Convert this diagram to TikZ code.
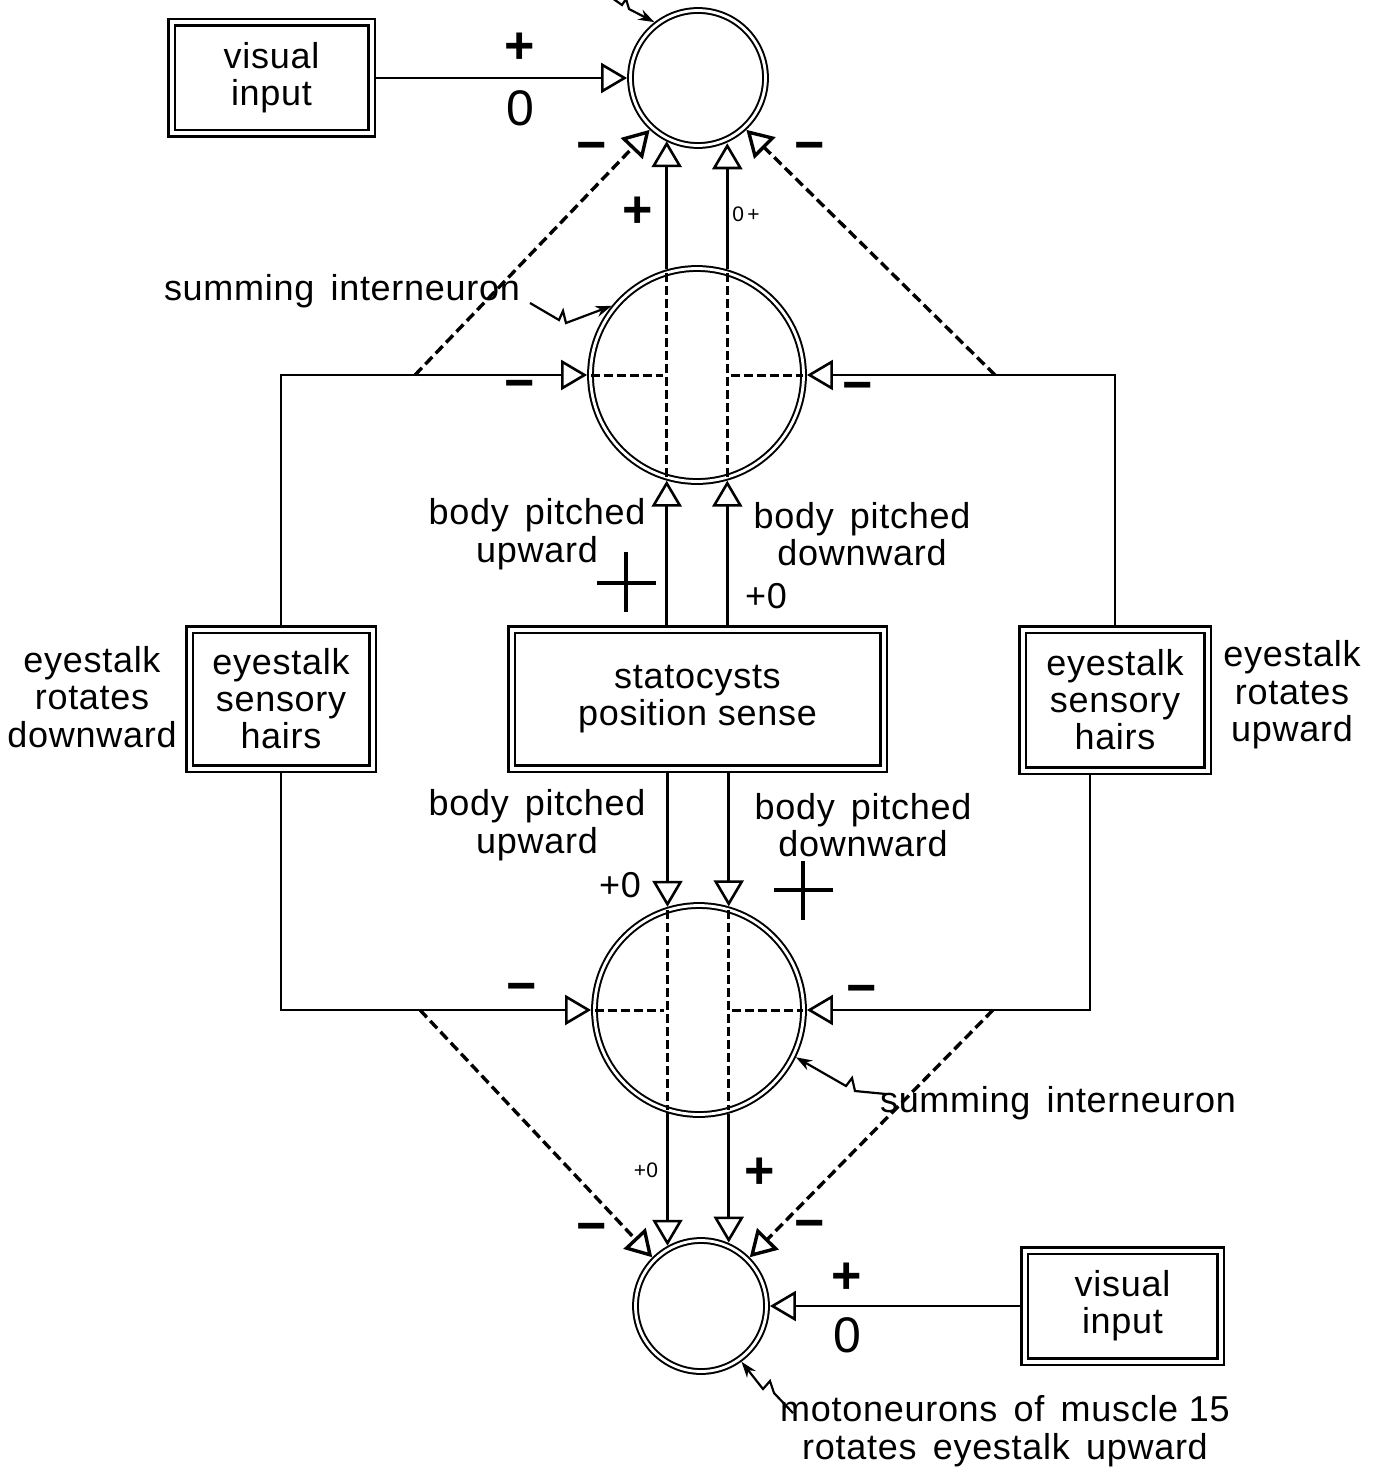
\documentclass[tikz,border=0pt]{standalone}
\usepackage{fontspec}
\setmainfont{Liberation Sans}[LetterSpace=2]
\usetikzlibrary{arrows.meta}
\begin{document}
\begin{tikzpicture}[x=1pt,y=-1pt,
  lab/.style={font=\fontsize{36}{37.5}\selectfont, align=center, inner sep=0pt},
  neuron/.style={circle, draw, double, line width=2pt, double distance=2.8pt, inner sep=0pt, outer sep=3.4pt},
  dbox/.style={draw, double, line width=2.2pt, double distance=4pt, align=center, inner sep=0pt, outer sep=4.2pt, font=\fontsize{36}{37}\selectfont},
  arr/.style={line width=2.6pt, -{Triangle[open, length=26pt, width=30pt]}},
  dline/.style={line width=3.4pt, dash pattern=on 10pt off 5pt},
  idash/.style={line width=3pt, dash pattern=on 9pt off 4pt, shorten <=3.5pt, shorten >=3.5pt},
  sq/.style={line width=2.2pt, -{Stealth[length=16pt, width=11pt]}},
  sgn/.style={font=\fontsize{52}{52}\selectfont\bfseries, inner sep=0pt},
  num/.style={font=\fontsize{50}{50}\selectfont, inner sep=0pt},
  small/.style={font=\fontsize{21}{21}\selectfont, inner sep=0pt},
  mid/.style={font=\fontsize{36}{36}\selectfont, inner sep=0pt},
  bigplus/.style={line width=4pt}
]
\useasboundingbox (0,0) rectangle (1377,1469);

% neurons
\node[neuron, minimum size=135pt] (T) at (698,78) {};
\node[neuron, minimum size=213pt] (M1) at (697,375) {};
\node[neuron, minimum size=209pt] (M2) at (699,1010) {};
\node[neuron, minimum size=131pt] (B) at (701,1306) {};

% boxes
\node[dbox, minimum width=200pt, minimum height=111pt] (VI1) at (271.5,78) {visual\\input};
\node[dbox, minimum width=183pt, minimum height=139pt] (ES1) at (281,699) {eyestalk\\sensory\\hairs};
\node[dbox, minimum width=372pt, minimum height=139pt] (ST) at (697.5,699) {statocysts\\position sense};
\node[dbox, minimum width=185pt, minimum height=141pt] (ES2) at (1115,700) {eyestalk\\sensory\\hairs};
\node[dbox, minimum width=196pt, minimum height=111pt] (VI2) at (1122.5,1306) {visual\\input};

% internal dashed lines
\draw[idash] (M1.106) -- (M1.254);
\draw[idash] (M1.74) -- (M1.286);
\draw[idash] (M1.west) -- (M1.106 |- M1.center);
\draw[idash] (M1.74 |- M1.center) -- (M1.east);
\draw[idash] (M2.107) -- (M2.253);
\draw[idash] (M2.74) -- (M2.286);
\draw[idash] (M2.west) -- (M2.107 |- M2.center);
\draw[idash] (M2.74 |- M2.center) -- (M2.east);

% connectors
\draw[arr] (VI1.east) -- (T.west);
\draw[arr] (M1.106) -- (M1.106 |- T.-117);
\draw[arr] (M1.74) -- (M1.74 |- T.-67);
\draw[arr] (ST.north -| M1.254) -- (M1.254);
\draw[arr] (ST.north -| M1.286) -- (M1.286);
\draw[arr] (ST.south -| M2.107) -- (M2.107);
\draw[arr] (ST.south -| M2.74) -- (M2.74);
\draw[arr] (M2.253) -- (M2.253 |- B.119);
\draw[arr] (M2.286) -- (M2.286 |- B.67);
\draw[arr] (ES1.north) |- (M1.west);
\draw[arr] (ES2.north) |- (M1.east);
\draw[arr] (ES1.south) |- (M2.west);
\draw[arr] ([xshift=-25pt]ES2.south) |- (M2.east);
\draw[arr] (VI2.west) -- (B.east);

\coordinate (j1) at (415,375);
\coordinate (j2) at (995,375);
\coordinate (j3) at (420,1010);
\coordinate (j4) at (993,1010);
\draw[arr, dline] (j1) -- (T.-133);
\draw[arr, dline] (j2) -- (T.-47);
\draw[arr, dline] (j3) -- (B.135);
\draw[arr, dline] (j4) -- (B.45);

% squiggle pointers
\draw[sq] (612,-2) -- (622,5) -- (626,-1) -- (629,9) -- (T.128);
\node[lab] (L1) at (342,291) {summing\hspace{0.45em}interneuron};
\coordinate (q1) at (530,303);
\draw[sq] (q1) -- (559,320) -- (563,311) -- (566,323) -- (M1.141);
\node[lab] (L2) at (1058,1103) {summing\hspace{0.45em}interneuron};
\coordinate (q2) at (886,1094);
\draw[sq] (q2) -- (855,1091) -- (852,1078) -- (846,1086) -- (M2.-26);
\node[lab] (L3) at (1005,1431) {motoneurons\hspace{0.45em}of\hspace{0.45em}muscle 15\\rotates\hspace{0.45em}eyestalk\hspace{0.45em}upward};
\coordinate (q3) at (793,1413);
\draw[sq] (q3) -- (774,1393) -- (770,1381) -- (763,1389) -- (B.-54);

% labels
\node[lab] (L4) at (537,534) {body\hspace{0.45em}pitched\\upward};
\node[lab] (L5) at (862,534) {body\hspace{0.45em}pitched\\downward};
\node[lab] (L6) at (537,825) {body\hspace{0.45em}pitched\\upward};
\node[lab] (L7) at (863,825) {body\hspace{0.45em}pitched\\downward};
\node[lab] (L8) at (92,697) {eyestalk\\rotates\\downward};
\node[lab] (L9) at (1292,695) {eyestalk\\rotates\\upward};

% signs
\node[sgn] (s1) at (520,48) {+};
\node[num] (s2) at (520,108) {0};
\node[sgn] (s3) at (592,152) {−};
\node[sgn] (s4) at (810,152) {−};
\node[sgn] (s5) at (638,212) {+};
\node[small] (s6) at (746,214) {0\,+};
\node[sgn] (s7) at (520,390) {−};
\node[sgn] (s8) at (858,392) {−};
\node[mid] (s9) at (766,596) {+0};
\node[mid] (s10) at (620,885) {+0};
\node[sgn] (s11) at (522,993) {−};
\node[sgn] (s12) at (862,995) {−};
\node[small] (s13) at (646,1170) {+0};
\node[sgn] (s14) at (760,1173) {+};
\node[sgn] (s15) at (592,1233) {−};
\node[sgn] (s16) at (810,1230) {−};
\node[sgn] (s17) at (847,1278) {+};
\node[num] (s18) at (847,1335) {0};

% large thin plus signs
\draw[bigplus] (597,583) -- (656,583);
\draw[bigplus] (626,552) -- (626,612);
\draw[bigplus] (774,890) -- (833,890);
\draw[bigplus] (803,861) -- (803,920);
\end{tikzpicture}
\end{document}
